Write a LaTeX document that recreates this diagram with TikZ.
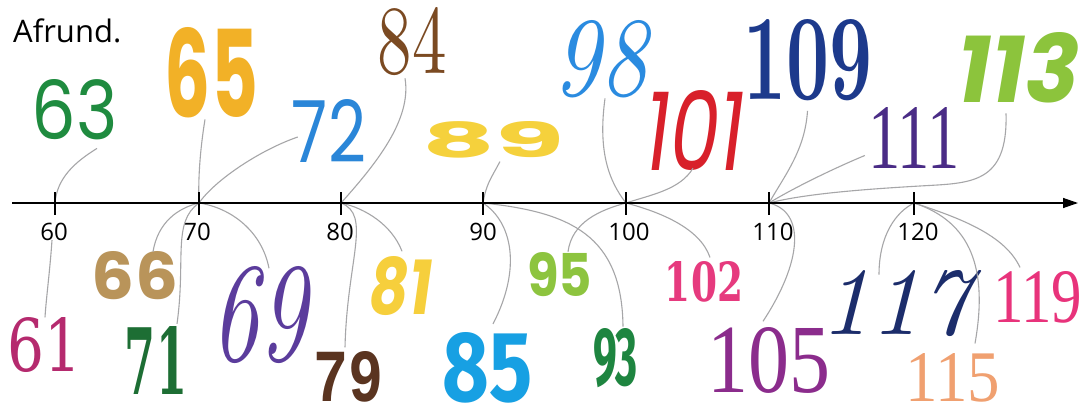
\documentclass[tikz,border=0pt]{standalone}
\usepackage{fontspec}
\usetikzlibrary{arrows.meta}
\newfontfamily\opensans{Open Sans}
\newfontfamily\poppins{Poppins}
\newfontfamily\fira{Fira Sans}
\newfontfamily\dvserif{DejaVu Serif}
\newfontfamily\libserif{Liberation Serif}
\newfontfamily\libmono{Liberation Mono}
\definecolor{linkgray}{HTML}{A6A6A8}
\definecolor{cSixtyThree}{HTML}{1F8B3F}
\definecolor{cSixtyFive}{HTML}{F2B127}
\definecolor{cSeventyTwo}{HTML}{2A86D8}
\definecolor{cEightyFour}{HTML}{7B4A22}
\definecolor{cEightyNine}{HTML}{F5D13C}
\definecolor{cNinetyEight}{HTML}{2A8BE0}
\definecolor{cHundredOne}{HTML}{D8202A}
\definecolor{cHundredNine}{HTML}{1D3A8C}
\definecolor{cHundredEleven}{HTML}{4A2C86}
\definecolor{cHundredThirteen}{HTML}{8CC43C}
\definecolor{cSixtyOne}{HTML}{B52A6E}
\definecolor{cSixtySix}{HTML}{B9945A}
\definecolor{cSeventyOne}{HTML}{1D6E34}
\definecolor{cSixtyNine}{HTML}{5B3C9C}
\definecolor{cSeventyNine}{HTML}{5A3420}
\definecolor{cEightyOne}{HTML}{F6CF3C}
\definecolor{cEightyFive}{HTML}{17A0E3}
\definecolor{cNinetyFive}{HTML}{8DC43F}
\definecolor{cNinetyThree}{HTML}{1E8540}
\definecolor{cHundredTwo}{HTML}{E63A7E}
\definecolor{cHundredFive}{HTML}{8B2C8C}
\definecolor{cHundredSeventeen}{HTML}{1C2D6B}
\definecolor{cHundredFifteen}{HTML}{F0A070}
\definecolor{cHundredNineteen}{HTML}{E8337B}
\newcommand{\numbox}[3]{\resizebox{#1pt}{#2pt}{#3}}
\tikzset{
  num/.style={inner sep=0pt, anchor=center},
  link/.style={draw=linkgray, line width=1.1pt},
  axisline/.style={line width=1.3pt, -{Triangle[length=15pt,width=10pt]}},
  tickline/.style={line width=1.3pt},
  ticklab/.style={inner sep=1pt, font=\opensans\fontsize{24}{26}\selectfont}
}
\begin{document}
\begin{tikzpicture}[x=1pt, y=-1pt]
\useasboundingbox (0,0) rectangle (1086,404);
\fill[white] (0,0) rectangle (1086,404);

\node[anchor=base west, inner sep=0pt, font=\opensans\fontsize{31}{33}\selectfont] (title) at (13,43) {Afrund.};

\coordinate (t60) at (55,203);
\coordinate (t70) at (199,203);
\coordinate (t80) at (341,203);
\coordinate (t90) at (483,203);
\coordinate (t100) at (626,203);
\coordinate (t110) at (769,203);
\coordinate (t120) at (914,203);

\node[ticklab] (l60) at (54,232) {60};
\node[ticklab] (l70) at (197,232) {70};
\node[ticklab] (l80) at (340,232) {80};
\node[ticklab] (l90) at (483,232) {90};
\node[ticklab] (l100) at (629,232) {100};
\node[ticklab] (l110) at (773,232) {110};
\node[ticklab] (l120) at (918,232) {120};

\node[num, text=cSixtyThree] (n63) at (75,110) {\numbox{86}{60}{\poppins 63}};
\node[num, text=cSixtyFive] (n65) at (211.5,73) {\numbox{93}{90}{\poppins\bfseries 65}};
\node[num, text=cSeventyTwo] (n72) at (329,131) {\numbox{74}{63}{\poppins 72}};
\node[num, text=cEightyFour] (n84) at (412,42) {\numbox{69}{66}{84}};
\node[num, text=cEightyNine] (n89) at (494,140) {\numbox{142}{36}{\poppins\bfseries 89}};
\node[num, text=cNinetyEight] (n98) at (600,59.5) {\numbox{94}{75}{\itshape 98}};
\node[num, text=cHundredOne] (n101) at (695,130) {\numbox{100}{80}{\poppins\itshape 101}};
\node[num, text=cHundredNine] (n109) at (807.5,60) {\numbox{129}{80}{\bfseries 109}};
\node[num, text=cHundredEleven] (n111) at (914,137.5) {\numbox{92}{61}{\libserif 111}};
\node[num, text=cHundredThirteen] (n113) at (1019,68) {\numbox{122}{70}{\poppins\bfseries\itshape 113}};

\node[num, text=cSixtyOne] (n61) at (45,345) {\numbox{74}{54}{\dvserif 61}};
\node[num, text=cSixtySix] (n66) at (135,276) {\numbox{86}{48}{\poppins\bfseries 66}};
\node[num, text=cSeventyOne] (n71) at (156,360) {\numbox{62}{68}{\dvserif\bfseries 71}};
\node[num, text=cSixtyNine] (n69) at (259.5,315) {\numbox{95}{94}{\itshape 69}};
\node[num, text=cSeventyNine] (n79) at (349,377) {\numbox{70}{50}{\libmono\bfseries 79}};
\node[num, text=cEightyOne] (n81) at (401,286) {\numbox{62}{58}{\poppins\bfseries\itshape 81}};
\node[num, text=cEightyFive] (n85) at (488,367.5) {\numbox{90}{69}{\fira\bfseries 85}};
\node[num, text=cNinetyFive] (n95) at (559.5,275) {\numbox{65}{44}{\poppins\bfseries 95}};
\node[num, text=cNinetyThree] (n93) at (615.5,358.5) {\numbox{45}{57}{\fira\bfseries 93}};
\node[num, text=cHundredTwo] (n102) at (704,282) {\numbox{78}{40}{\dvserif\bfseries 102}};
\node[num, text=cHundredFive] (n105) at (768.5,360.5) {\numbox{123}{65}{\libserif 105}};
\node[num, text=cHundredSeventeen] (n117) at (895,304) {\numbox{150}{64}{\itshape 117}};
\node[num, text=cHundredFifteen] (n115) at (952.5,378) {\numbox{95}{48}{\libserif 115}};
\node[num, text=cHundredNineteen] (n119) at (1037.5,297.5) {\numbox{89}{51}{\libserif 119}};

\draw[link] ([shift={(22,8)}]n63.south) .. controls (75,162) and (57,178) .. (t60);
\draw[link] ([shift={(-6.5,1)}]n65.south) .. controls (200,150) and (198,180) .. (t70);
\draw[link] ([shift={(6,6)}]n72.west) .. controls (260,150) and (215,180) .. (t70);
\draw[link] ([shift={(-7,2)}]n84.south) .. controls (412,120) and (375,165) .. (t80);
\draw[link] ([shift={(6,3)}]n89.south) .. controls (490,180) and (486,185) .. (t90);
\draw[link] ([shift={(5,0)}]n98.south) .. controls (598,150) and (608,180) .. (t100);
\draw[link] ([shift={(-2,-2)}]n101.south) .. controls (680,190) and (650,195) .. (t100);
\draw[link] ([shift={(0,10)}]n109.south) .. controls (805,150) and (785,175) .. (t110);
\draw[link] ([shift={(-3,18)}]n111.west) .. controls (830,170) and (790,190) .. (t110);
\draw[link] ([shift={(-13,10)}]n113.south) .. controls (1008,185) and (970,183) .. (920,186) .. controls (850,190) and (800,195) .. (t110);

\draw[link] ([shift={(-2,-2)}]l60.south) .. controls (50,270) and (46,300) .. (n61.north);
\draw[link] ([shift={(18,0)}]n66.north) .. controls (158,222) and (178,208) .. (t70);
\draw[link] ([shift={(21,-2)}]n71.north) .. controls (186,260) and (172,222) .. (t70);
\draw[link] ([shift={(9.5,2)}]n69.north) .. controls (262,232) and (232,208) .. (t70);
\draw[link] ([shift={(-4,-4)}]n79.north) .. controls (347,260) and (372,215) .. (t80);
\draw[link] ([shift={(1,-5)}]n81.north) .. controls (392,225) and (365,208) .. (t80);
\draw[link] ([shift={(5,-8)}]n85.north) .. controls (522,268) and (512,222) .. (t90);
\draw[link] ([shift={(8.5,-1)}]n95.north) .. controls (572,222) and (600,210) .. (t100);
\draw[link] ([shift={(7.5,-2)}]n93.north) .. controls (622,235) and (570,212) .. (t90);
\draw[link] ([shift={(6,-4)}]n102.north) .. controls (700,228) and (660,212) .. (t100);
\draw[link] ([shift={(-5.5,-6)}]n105.north) .. controls (802,262) and (806,212) .. (t110);
\draw[link] ([shift={(-16,4)}]n117.north) .. controls (879,235) and (896,212) .. (t120);
\draw[link] ([shift={(22.5,-10)}]n115.north) .. controls (988,270) and (972,222) .. (t120);
\draw[link] ([shift={(-17.5,-4)}]n119.north) .. controls (1005,235) and (960,218) .. (t120);

\coordinate (axisstart) at (12,203);
\coordinate (axisend) at (1078,203);
\draw[axisline] (axisstart) -- (axisend);
\foreach \t in {t60,t70,t80,t90,t100,t110,t120}
  \draw[tickline] ([shift={(0,-11)}]\t) -- ([shift={(0,12)}]\t);
\end{tikzpicture}
\end{document}
